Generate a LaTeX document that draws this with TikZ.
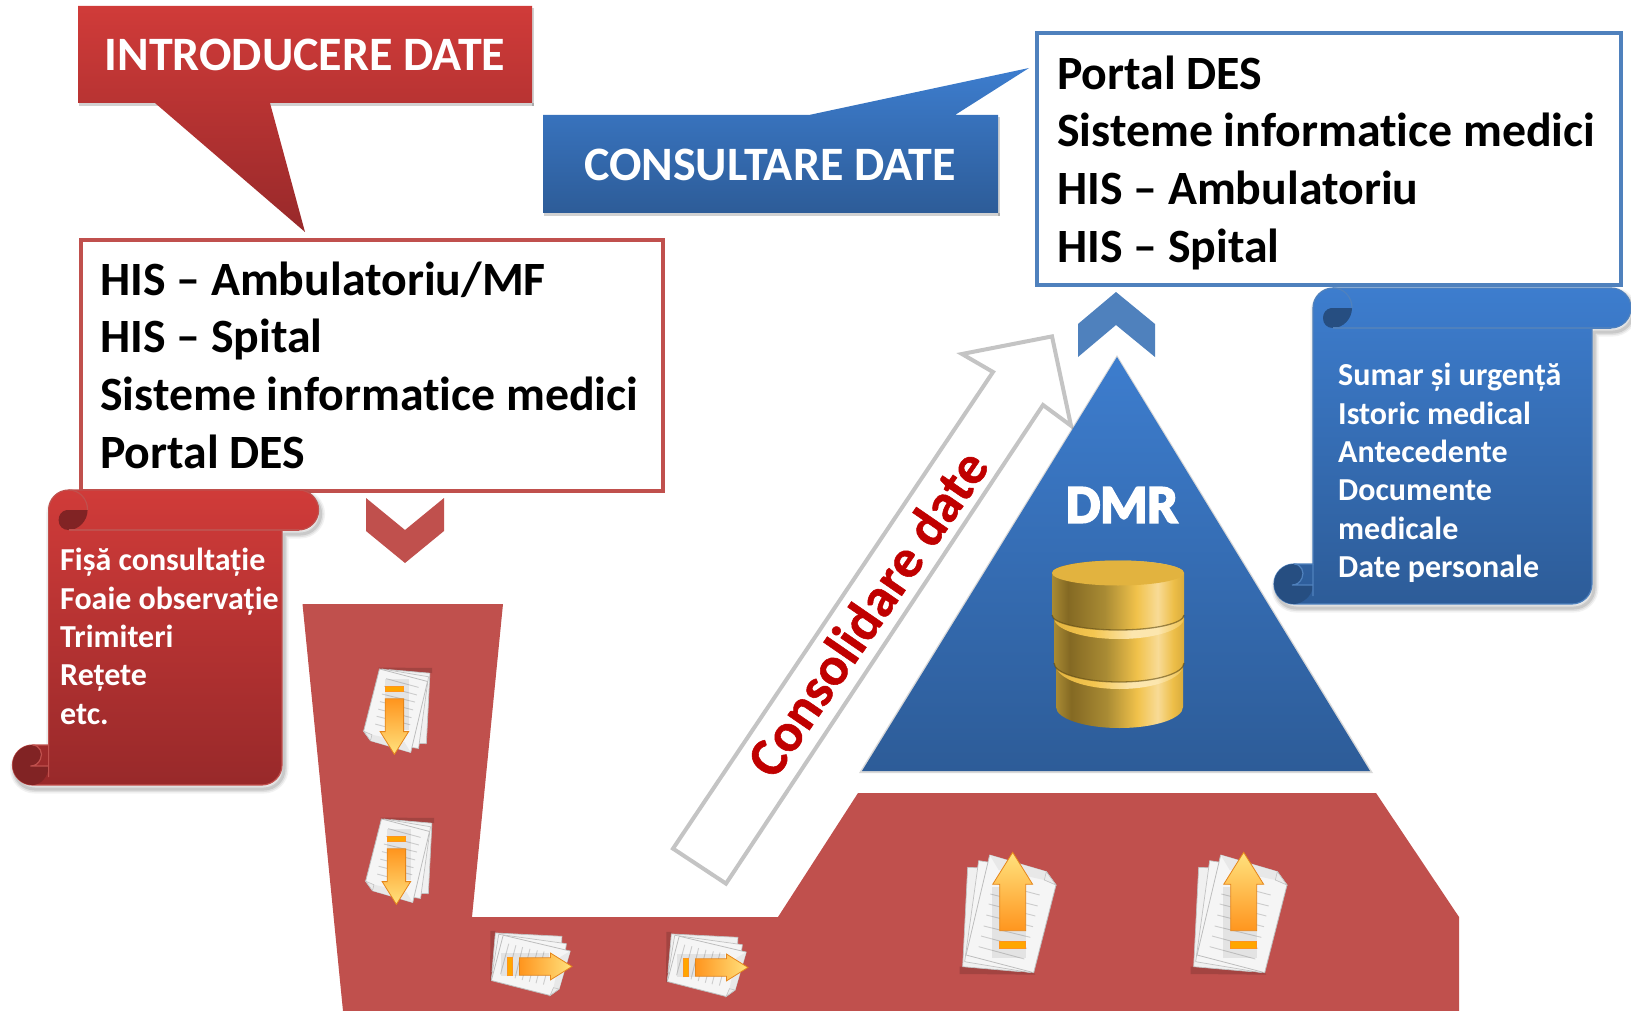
\documentclass[tikz,border=0pt]{standalone}
\usepackage{fontspec}
\setmainfont{Carlito}[Ligatures=NoCommon]
\newfontfamily\dmrfont{Carlito}[Ligatures=NoCommon,BoldFeatures={FakeBold=4}]
\newfontfamily\consfont{Carlito}[Ligatures=NoCommon,BoldFeatures={FakeBold=1}]
\usetikzlibrary{calc}
\definecolor{redline}{HTML}{C0504D}
\definecolor{blueline}{HTML}{4F81BD}
\definecolor{redtop}{HTML}{D03B39}
\definecolor{redbot}{HTML}{98292A}
\definecolor{bluetop}{HTML}{3D7DCE}
\definecolor{bluebot}{HTML}{2D5C98}
\definecolor{arrowyellow}{HTML}{FFE27E}
\definecolor{arroworange}{HTML}{FF951E}
\definecolor{gA}{HTML}{A88A33}
\definecolor{gB}{HTML}{846923}
\definecolor{gC}{HTML}{A98B34}
\definecolor{gD}{HTML}{F1C24B}
\definecolor{gE}{HTML}{F8DB96}
\definecolor{gF}{HTML}{EDBE48}
\definecolor{gG}{HTML}{D9AC3D}
\definecolor{gTop}{HTML}{E2B33F}
\definecolor{lA}{HTML}{E5B540}
\definecolor{lB}{HTML}{F4C650}
\definecolor{lC}{HTML}{FCE6AE}
\definecolor{lD}{HTML}{F0C24C}
\definecolor{consred}{HTML}{C00000}
\definecolor{goldshade}{HTML}{5E4A14}
\pgfdeclarehorizontalshading{goldbody}{100bp}{color(0bp)=(gA);color(25bp)=(gA);color(31bp)=(gB);color(45bp)=(gC);color(57bp)=(gD);color(65bp)=(gE);color(71bp)=(gF);color(75bp)=(gG);color(100bp)=(gG)}
\pgfdeclarehorizontalshading{goldlight}{100bp}{color(0bp)=(lA);color(25bp)=(lA);color(40bp)=(lB);color(55bp)=(lC);color(65bp)=(lC);color(75bp)=(lD);color(100bp)=(lD)}
\tikzset{
  redgrad/.style={top color=redtop,bottom color=redbot},
  bluegrad/.style={top color=bluetop,bottom color=bluebot},
  whitebox/.style={draw,fill=white,line width=4pt,line join=miter},
  boxtext/.style={anchor=north west,align=left,inner sep=0pt,text=black,font=\fontsize{47.8}{57.6}\selectfont\bfseries},
  scrolltext/.style={anchor=north west,align=left,inner sep=0pt,text=white,font=\fontsize{32}{38.4}\selectfont\bfseries},
  calltext/.style={inner sep=0pt,text=white,font=\fontsize{48}{54}\selectfont\bfseries},
  hollowarrow/.style={draw=black!23,fill=white,line width=4pt,line join=miter},
  softshadow/.style={black,opacity=.18},
  arrowup/.style={top color=arrowyellow,bottom color=arroworange},
  arrowdown/.style={top color=arroworange,bottom color=arrowyellow},
  arrowright/.style={left color=arroworange,right color=arrowyellow},
  pics/docicon/.style={code={
    \begin{scope}[xscale=1/3,yscale=1/3,shift={(-266,-276)}]
      \fill[black,opacity=.15] (118,440) -- (330,445) -- (345,464) -- (118,462) -- cycle;
      \filldraw[fill=black!6,draw=black!24,line width=.7pt,line join=round] (142,142) -- (127,440) -- (300,455) -- (320,150) -- cycle;
      \filldraw[fill=black!4,draw=black!24,line width=.7pt,line join=round] (175,122) -- (133,425) -- (330,458) -- (360,150) -- cycle;
      \filldraw[fill=white!96!black,draw=black!26,line width=.8pt,line join=round] (208,105) -- (378,155) -- (407,195) -- (340,458) -- (137,405) -- cycle;
      \fill[black!9] (208,105) -- (378,155) -- (372,180) -- (235,150) -- cycle;
      \filldraw[fill=black!8,draw=black!24,line width=.6pt] (378,155) -- (372,180) -- (407,195) -- cycle;
      \foreach \ya/\xa/\xb/\yb in {190/225/358/225,222/210/352/258,252/205/345/288,285/198/338/320,318/190/330/352,348/182/320/385,380/175/312/417}
        \draw[black!20,line width=.9pt] (\xa,\ya) -- (\xb,\yb);
      \fill[black,opacity=.07] (215,200) rectangle (318,415);
      \path[#1,draw=arroworange!90!black,line width=.8pt,line join=miter] (277,97) -- (337,193) -- (316,193) -- (316,332) -- (238,332) -- (238,193) -- (217,193) -- cycle;
      \filldraw[fill=orange!70!yellow,draw=arroworange,line width=.8pt] (238,363) rectangle (316,385);
    \end{scope}
  }},
}
\newcommand{\scrollpath}[6]{
  (#1,#4+20) arc[start angle=180,end angle=270,radius=20]
  -- (#3-20,#4) arc[start angle=270,end angle=450,radius=20]
  -- (#2,#4+40) -- (#2,#5-20) arc[start angle=0,end angle=90,radius=20]
  -- (#6+20,#5) arc[start angle=90,end angle=270,radius=20]
  -- (#1,#5-40) -- cycle}
\newcommand{\scrollshape}[9]{
  \foreach \w/\op in {9/.05,6/.07,3/.10}
    \draw[black,opacity=\op,line width=\w pt,line join=round,shift={(2,4)}] \scrollpath{#1}{#2}{#3}{#4}{#5}{#6};
  \path[#7,draw=#8,line width=1.2pt] \scrollpath{#1}{#2}{#3}{#4}{#5}{#6};
  % bottom curl
  \fill[#9] (#6+20,#5) arc[start angle=90,end angle=270,radius=20]
    .. controls (#6+27,#5-40) and (#6+31,#5-32) .. (#6+28,#5-26)
    .. controls (#6+26,#5-21) and (#6+22,#5-19) .. (#6+18,#5-19)
    -- (#1,#5-19) .. controls (#1,#5-8) and (#6+28,#5) .. (#6+20,#5) -- cycle;
  \draw[#8,line width=1.2pt] (#6+20,#5-40)
    .. controls (#6+27,#5-40) and (#6+31,#5-32) .. (#6+28,#5-26)
    .. controls (#6+26,#5-21) and (#6+22,#5-19) .. (#6+18,#5-19)
    -- (#1,#5-19) (#1,#5-40) -- (#1,#5-8);
  % top curl
  \fill[#9] (#1+39,#4+20) -- (#1+18,#4+20) .. controls (#1+13,#4+21) and (#1+10,#4+25) .. (#1+10,#4+30) .. controls (#1+10,#4+36) and (#1+14,#4+40) .. (#1+20,#4+40) .. controls (#1+30,#4+40) and (#1+39,#4+31) .. (#1+39,#4+20) -- cycle;
  \draw[#8,line width=1.2pt] (#1+20,#4) .. controls (#1+31,#4) and (#1+39,#4+9) .. (#1+39,#4+20);
  \draw[#8,line width=1.2pt] (#1+20,#4+40) -- (#3-20,#4+40);
}
\begin{document}
\begin{tikzpicture}[x=1pt,y=-1pt]
\useasboundingbox (0,0) rectangle (1631,1011);
\fill[white] (0,0) rectangle (1631,1011);

% red track
\fill[redline] (302.5,604) -- (503,604) -- (472,917) -- (778,917) -- (858,793) -- (1376,793) -- (1459,917) -- (1459,1011) -- (343,1011) -- cycle;

% intro callout
\fill[softshadow] (79,103) rectangle (534,106);
\fill[softshadow] (532,8) rectangle (534,106);
\path[redgrad] (78,6) -- (532,6) -- (532,103) -- (270,103) -- (305,232) -- (155,103) -- (78,103) -- cycle;
\node[calltext] (intro) at (305,55) {INTRODUCERE DATE};

% red box
\node[whitebox,draw=redline,minimum width=582pt,minimum height=251pt,anchor=north west,inner sep=0pt] (redbox) at (79,238) {};
\node[boxtext] (redtext) at (100,261.5) {HIS – Ambulatoriu/MF\\HIS – Spital\\Sisteme informatice medici\\Portal DES};

% red scroll
\scrollshape{48.6}{282}{318.6}{490}{785}{12.5}{redgrad}{redline}{redbot!85!black}
\node[scrolltext] (redscroll) at (60,548) {Fișă consultație\\Foaie observație\\Trimiteri\\Rețete\\etc.};

% red chevron
\fill[redline] (366,498) -- (405,530) -- (444,498) -- (444,531) -- (405,563) -- (366,531) -- cycle;

% blue callout
\fill[softshadow] (544,213) rectangle (1000,216);
\fill[softshadow] (998,117) rectangle (1000,216);
\path[bluegrad] (543,115) -- (809,115) -- (1029,68) -- (955,115) -- (998,115) -- (998,213) -- (543,213) -- cycle;
\node[calltext] (consult) at (770,165) {CONSULTARE DATE};

% blue box
\node[whitebox,draw=blueline,minimum width=584pt,minimum height=252pt,anchor=north west,inner sep=0pt] (bluebox) at (1035,31) {};
\node[boxtext] (bluetext) at (1057,55.5) {Portal DES\\Sisteme informatice medici\\HIS – Ambulatoriu\\HIS – Spital};

% blue scroll
\scrollshape{1313}{1592}{1631}{288}{604}{1274}{bluegrad}{blueline}{bluebot!85!black}
\node[scrolltext] (bluescroll) at (1338,363) {Sumar și urgență\\Istoric medical\\Antecedente\\Documente\\medicale\\Date personale};

% blue chevron
\fill[blueline] (1078,324) -- (1116,292) -- (1155,324) -- (1155,357) -- (1116,325) -- (1078,357) -- cycle;

% hollow arrow
\path[hollowarrow] (673,848.6) -- (993,372) -- (962,354) -- (1052,336.4) -- (1071,425.7) -- (1043,405) -- (726,883.6) -- cycle;
\node[inner sep=0pt,rotate=55.5,text=consred,font=\consfont\fontsize{54.5}{60}\selectfont\bfseries] (consolid) at (867,613) {Consolidare date};

% triangle
\fill[black,opacity=.15] (1117,355) -- (1373,773) -- (859,773) -- cycle;
\path[bluegrad] (1117,357) -- (1370,771) -- (862,771) -- cycle;
\node[inner sep=0pt,text=white,font=\dmrfont\fontsize{54}{60}\selectfont\bfseries] (dmr) at (1122,505) {DMR};

% database
\path[shading=goldbody] (1056,665) -- (1056,707) arc[start angle=180,end angle=0,x radius=63.5,y radius=21] -- (1183,665) arc[start angle=0,end angle=-180,x radius=63.5,y radius=15] -- cycle;
\path[shading=goldlight] (1056,665) arc[start angle=180,end angle=0,x radius=63.5,y radius=24] arc[start angle=0,end angle=180,x radius=63.5,y radius=5] -- cycle;
\path[shading=goldbody] (1054,618) -- (1054,663) arc[start angle=180,end angle=0,x radius=65,y radius=19] -- (1184,663) -- (1184,618) arc[start angle=0,end angle=-180,x radius=65,y radius=15] -- cycle;
\draw[goldshade,opacity=.6,line width=1.3pt] (1054,663) arc[start angle=180,end angle=0,x radius=65,y radius=19];
\path[shading=goldlight] (1054,618) arc[start angle=180,end angle=0,x radius=65,y radius=21] arc[start angle=0,end angle=180,x radius=65,y radius=5] -- cycle;
\path[shading=goldbody] (1052,573) -- (1052,615) arc[start angle=180,end angle=0,x radius=66,y radius=15] -- (1184,573) arc[start angle=0,end angle=-180,x radius=66,y radius=12.5] -- cycle;
\draw[goldshade,opacity=.6,line width=1.3pt] (1052,615) arc[start angle=180,end angle=0,x radius=66,y radius=15];
\fill[gTop] (1118,573) ellipse[x radius=66,y radius=12.5];

% document icons
\pic (docd1) at (397,712) [rotate=180,scale=.71] {docicon=arrowdown};
\pic (docd2) at (399,862) [rotate=180,scale=.71] {docicon=arrowdown};
\pic (docr1) at (532,964) [rotate=-90,scale=.67] {docicon=arrowright};
\pic (docr2) at (708,965) [rotate=-90,scale=.67] {docicon=arrowright};
\pic (docu1) at (1009,912) {docicon=arrowup};
\pic (docu2) at (1240,912) {docicon=arrowup};
\end{tikzpicture}
\end{document}
